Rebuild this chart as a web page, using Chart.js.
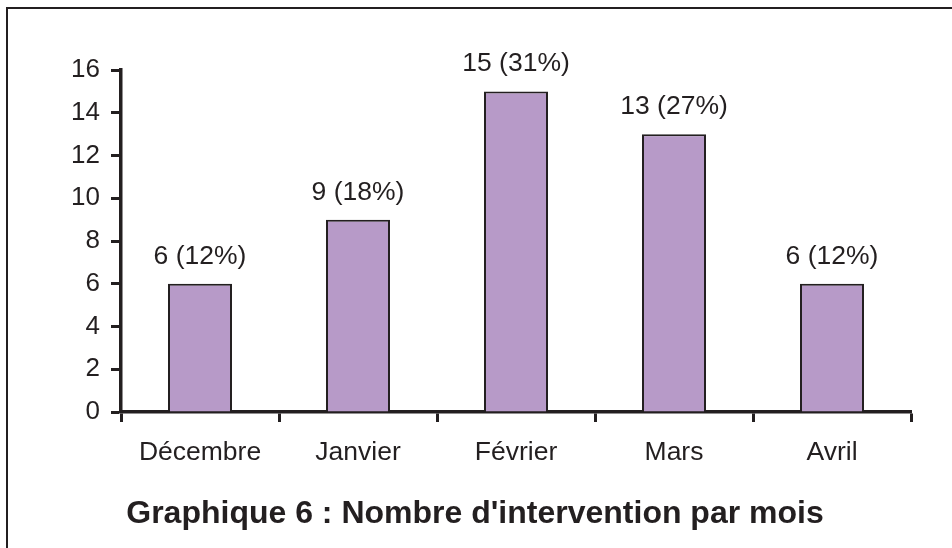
<!DOCTYPE html>
<html>
<head>
<meta charset="utf-8">
<script src="https://cdn.jsdelivr.net/npm/chart.js@4.4.1/dist/chart.umd.min.js"></script>
<style>
  html, body { margin: 0; padding: 0; background: #fff; }
  #wrap { width: 952px; height: 548px; }
</style>
</head>
<body>
<div id="wrap"><canvas id="barChart" width="952" height="548"></canvas></div>
<script>
// Data
const months = ["Décembre", "Janvier", "Février", "Mars", "Avril"];
const interventions = [6, 9, 15, 13, 6];
const percents = ["12%", "18%", "31%", "27%", "12%"];
const yTicks = [0, 2, 4, 6, 8, 10, 12, 14, 16];
const titleText = "Graphique 6 : Nombre d'intervention par mois";

const ink = "#231F20";
const fontFamily = "'Liberation Sans', Arial, sans-serif";

// white background + frame around the figure, title centred on the page
const framePlugin = {
  id: "frame",
  beforeDraw(chart) {
    const c = chart.ctx;
    c.save();
    c.fillStyle = "#fff";
    c.fillRect(0, 0, chart.width, chart.height);
    c.strokeStyle = ink;
    c.lineWidth = 2;
    c.beginPath();
    c.moveTo(7, chart.height);
    c.lineTo(7, 8);
    c.lineTo(chart.width, 8);
    c.stroke();
    c.restore();
  },
  afterDraw(chart) {
    const c = chart.ctx;
    c.save();
    c.fillStyle = ink;
    c.font = "bold 32px " + fontFamily;
    c.textAlign = "center";
    c.textBaseline = "alphabetic";
    c.fillText(titleText, 475, 523);
    c.restore();
  }
};

// value labels above each bar, "6 (12%)"
const valueLabels = {
  id: "valueLabels",
  afterDatasetsDraw(chart) {
    const c = chart.ctx;
    const meta = chart.getDatasetMeta(0);
    c.save();
    c.fillStyle = ink;
    c.font = "26.5px " + fontFamily;
    c.textAlign = "center";
    c.textBaseline = "alphabetic";
    meta.data.forEach((bar, i) => {
      c.fillText(interventions[i] + " (" + percents[i] + ")", bar.x, bar.y - 20);
    });
    c.restore();
  }
};

new Chart(document.getElementById("barChart"), {
  type: "bar",
  data: {
    labels: months,
    datasets: [{
      data: interventions,
      backgroundColor: "#B79AC8",
      borderColor: ink,
      borderWidth: 2,
      barPercentage: 0.405,
      categoryPercentage: 1
    }]
  },
  options: {
    responsive: false,
    animation: false,
    layout: { padding: { left: 0, right: 41, top: 70, bottom: 76 } },
    plugins: {
      legend: { display: false },
      tooltip: { enabled: false },
      title: { display: false }
    },
    scales: {
      x: {
        afterFit: s => { s.height = 60; },
        grid: {
          offset: true,
          drawOnChartArea: false,
          drawTicks: true,
          tickLength: 10,
          tickWidth: 3,
          tickColor: ink
        },
        border: { display: true, color: ink, width: 3.5 },
        ticks: {
          color: ink,
          padding: 15,
          font: { family: fontFamily, size: 26.5 }
        }
      },
      y: {
        min: 0,
        max: 16,
        afterFit: s => { s.width = 121; },
        afterBuildTicks: s => { s.ticks = yTicks.map(v => ({ value: v })); },
        grid: {
          drawOnChartArea: false,
          drawTicks: true,
          tickLength: 10,
          tickWidth: 3,
          tickColor: ink
        },
        border: { display: true, color: ink, width: 3.5 },
        ticks: {
          color: ink,
          padding: 11,
          font: { family: fontFamily, size: 26 }
        }
      }
    }
  },
  plugins: [framePlugin, valueLabels]
});
</script>
</body>
</html>
